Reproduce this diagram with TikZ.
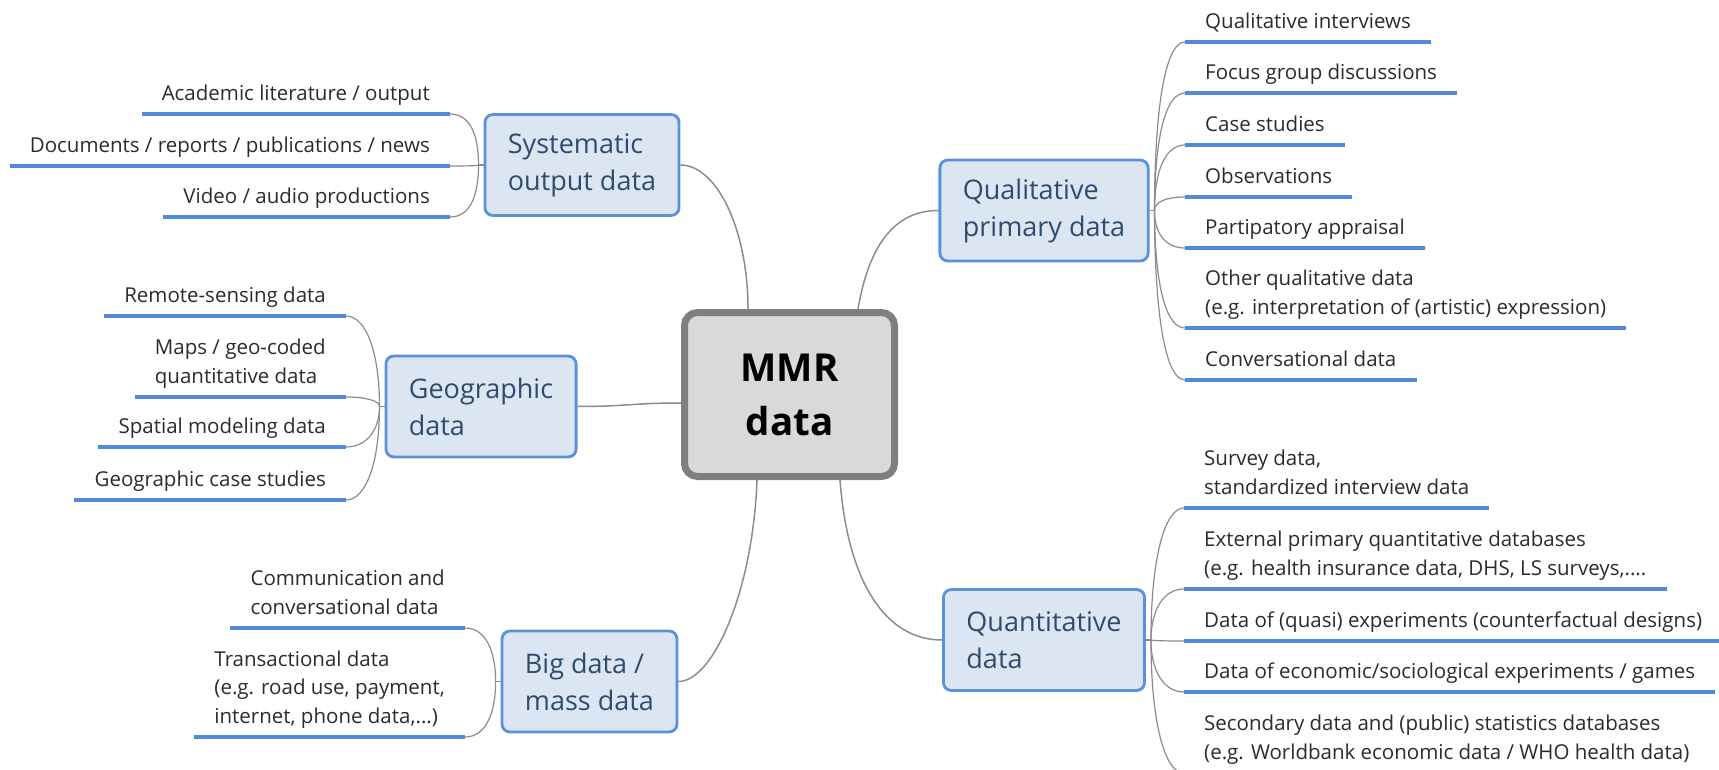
\documentclass[tikz,border=0pt]{standalone}
\usepackage{fontspec}
\setmainfont{Open Sans}
\usetikzlibrary{calc,backgrounds}
\definecolor{twigc}{HTML}{8C8C8C}
\definecolor{ulc}{HTML}{5289D8}
\definecolor{boxb}{HTML}{5B90DB}
\definecolor{boxf}{HTML}{DCE6F2}
\definecolor{boxt}{HTML}{2F4B70}
\definecolor{leaft}{HTML}{2B2B2B}
\definecolor{cenf}{HTML}{D9D9D9}
\definecolor{cenb}{HTML}{7F7F7F}
\newcommand\twigR[2]{\draw[twig] (#1) .. controls ($(#1)!0.6!(#1|-#2)$) and ($(#2)+(-20,0)$) .. (#2);}
\newcommand\twigL[2]{\draw[twig] (#1) .. controls ($(#1)!0.6!(#1|-#2)$) and ($(#2)+(20,0)$) .. (#2);}
\begin{document}
\begin{tikzpicture}[x=1pt,y=-1pt,
  center/.style={draw=cenb, line width=7pt, fill=cenf, rounded corners=13pt, minimum width=210pt, minimum height=164pt, align=center, font=\fontsize{38.5}{54}\selectfont\bfseries, text=black},
  branch/.style={draw=boxb, line width=2.8pt, fill=boxf, rounded corners=8pt, minimum height=101pt, inner xsep=23pt, align=left, font=\fontsize{27}{37}\selectfont, text=boxt},
  leaf/.style={inner xsep=20pt, inner ysep=13.5pt, text depth=0pt, align=left, font=\fontsize{20.5}{28.5}\selectfont, text=leaft},
  leafR/.style={leaf, anchor=south west},
  leafL/.style={leaf, anchor=south east},
  uline/.style={draw=ulc, line width=4pt},
  limb/.style={draw=twigc, line width=1.5pt},
  twig/.style={draw=twigc, line width=1.2pt},
]
\useasboundingbox (0,0) rectangle (1719,770);

% central and branch nodes
\node[center] (C) at (789.5,394.5) {MMR\\data};
\node[branch] (S) at (582,165) {Systematic\\output data};
\node[branch] (G) at (481,406.5) {Geographic\\data};
\node[branch] (B) at (589.5,681.5) {Big data /\\mass data};
\node[branch] (Q) at (1044,210.5) {Qualitative\\primary data};
\node[branch] (N) at (1044,640) {Quantitative\\data};

% leaves: systematic
\node[leafL] (s1) at (450,114) {Academic literature / output};
\node[leafL] (s2) at (450,166) {Documents / reports / publications / news};
\node[leafL] (s3) at (450,217) {Video / audio productions};
% leaves: geographic
\node[leafL] (g1) at (346,316) {Remote-sensing data};
\node[leafL] (g2) at (346,397) {Maps / geo-coded\\quantitative data};
\node[leafL] (g3) at (346,447) {Spatial modeling data};
\node[leafL] (g4) at (346,500) {Geographic case studies};
% leaves: big data
\node[leafL] (b1) at (465,628) {Communication and\\conversational data};
\node[leafL] (b2) at (465,737) {Transactional data\\(e.g. road use, payment,\\internet, phone data,...)};
% leaves: qualitative
\node[leafR] (q1) at (1185,42) {Qualitative interviews};
\node[leafR] (q2) at (1185,93) {Focus group discussions};
\node[leafR] (q3) at (1185,145) {Case studies};
\node[leafR] (q4) at (1185,197) {Observations};
\node[leafR] (q5) at (1185,248) {Partipatory appraisal};
\node[leafR] (q6) at (1185,328) {Other qualitative data\\(e.g. interpretation of (artistic) expression)};
\node[leafR] (q7) at (1185,380) {Conversational data};
% leaves: quantitative
\node[leafR] (n1) at (1184,508) {Survey data,\\standardized interview data};
\node[leafR] (n2) at (1184,589) {External primary quantitative databases\\(e.g. health insurance data, DHS, LS surveys,....};
\node[leafR] (n3) at (1184,641) {Data of (quasi) experiments (counterfactual designs)};
\node[leafR] (n4) at (1184,692) {Data of economic/sociological experiments / games};
\node[leafR] (n5) at (1184,773) {Secondary data and (public) statistics databases\\(e.g. Worldbank economic data / WHO health data)};

% underlines
\foreach \n in {s1,s2,s3,g1,g2,g3,g4,b1,b2,q1,q2,q3,q4,q5,q6,q7,n1,n2,n3,n4,n5}
  \draw[uline] (\n.south west) -- (\n.south east);

% junctions
\coordinate (jS) at ($(S.west)+(-5,0)$);
\coordinate (jG) at ($(G.west)+(-5,0)$);
\coordinate (jB) at ($(B.west)+(-5,0)$);
\coordinate (jQ) at ($(Q.east)+(5,0)$);
\coordinate (jN) at ($(N.east)+(5,0)$);

\begin{scope}[on background layer]
  % main limbs
  \draw[limb] ($(C.north)+(-41.5,0)$) .. controls +(0,-80) and +(36,0) .. (S.east);
  \draw[limb] ($(C.north)+(68.5,0)$) .. controls +(12,-70) and +(-40,0) .. (Q.west);
  \draw[limb] ($(C.west)+(0,8.5)$) .. controls +(-50,0) and +(50,0) .. (G.east);
  \draw[limb] ($(C.south)+(-32.5,0)$) .. controls +(-4,110) and +(35,0) .. (B.east);
  \draw[limb] ($(C.south)+(50.5,0)$) .. controls +(8,105) and +(-55,0) .. (N.west);
  % twigs
  \draw[twig] (S.west) -- (jS);
  \draw[twig] (G.west) -- (jG);
  \draw[twig] (B.west) -- (jB);
  \draw[twig] (Q.east) -- (jQ);
  \draw[twig] (N.east) -- (jN);
  \twigL{jS}{s1.south east} \twigL{jS}{s2.south east} \twigL{jS}{s3.south east}
  \twigL{jG}{g1.south east} \twigL{jG}{g2.south east} \twigL{jG}{g3.south east} \twigL{jG}{g4.south east}
  \twigL{jB}{b1.south east} \twigL{jB}{b2.south east}
  \twigR{jQ}{q1.south west} \twigR{jQ}{q2.south west} \twigR{jQ}{q3.south west} \twigR{jQ}{q4.south west}
  \twigR{jQ}{q5.south west} \twigR{jQ}{q6.south west} \twigR{jQ}{q7.south west}
  \twigR{jN}{n1.south west} \twigR{jN}{n2.south west} \twigR{jN}{n3.south west} \twigR{jN}{n4.south west} \twigR{jN}{n5.south west}
\end{scope}
\end{tikzpicture}
\end{document}
